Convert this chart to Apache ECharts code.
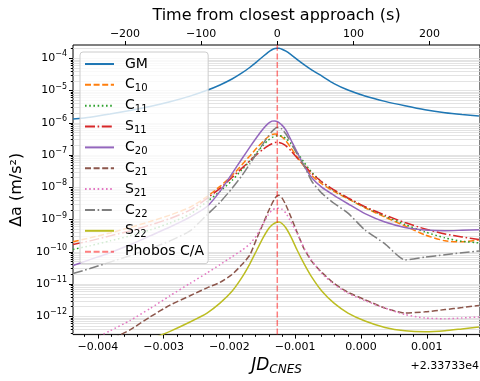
<!DOCTYPE html>
<html><head><meta charset="utf-8">
<script src="https://cdn.jsdelivr.net/npm/echarts@6/dist/echarts.min.js"></script>
<style>html,body{margin:0;padding:0;background:#fff}#c{width:480px;height:381px}</style>
</head><body><div id="c"></div>
<script>
// JD_CNES offsets (days) relative to +2.33733e4
const jd = [-0.004377,-0.004119,-0.003815,-0.003511,-0.003207,-0.002903,-0.002599,-0.002340,-0.002143,-0.001960,
 -0.001809,-0.001687,-0.001581,-0.001489,-0.001413,-0.001353,-0.001307,-0.001277,-0.001246,-0.001201,
 -0.001140,-0.001064,-0.000973,-0.000866,-0.000745,-0.000593,-0.000410,-0.000198,0.000061,0.000365,
 0.000669,0.000973,0.001277,0.001535,0.001793];
// log10 of Δa (m/s^2)
const logGM  = [-5.880,-5.825,-5.727,-5.617,-5.494,-5.347,-5.172,-4.991,-4.825,-4.641,-4.454,-4.276,-4.101,-3.942,-3.813,-3.733,-3.696,-3.687,-3.690,-3.718,-3.779,-3.887,-4.031,-4.193,-4.362,-4.552,-4.782,-4.982,-5.166,-5.334,-5.472,-5.595,-5.687,-5.742,-5.785];
const logC10 = [-9.690,-9.568,-9.414,-9.245,-9.061,-8.862,-8.617,-8.288,-7.972,-7.635,-7.298,-7.021,-6.776,-6.577,-6.439,-6.362,-6.347,-6.356,-6.377,-6.439,-6.561,-6.776,-7.052,-7.344,-7.635,-7.896,-8.126,-8.356,-8.632,-8.923,-9.199,-9.476,-9.660,-9.690,-9.629];
const logC11 = [-9.926,-9.813,-9.660,-9.506,-9.322,-9.107,-8.831,-8.442,-8.126,-7.788,-7.451,-7.175,-6.914,-6.699,-6.546,-6.454,-6.417,-6.402,-6.396,-6.408,-6.485,-6.653,-6.914,-7.221,-7.543,-7.834,-8.095,-8.341,-8.617,-8.893,-9.153,-9.383,-9.568,-9.675,-9.721];
const logS11 = [-9.773,-9.660,-9.506,-9.353,-9.169,-8.969,-8.709,-8.341,-8.034,-7.696,-7.405,-7.175,-6.975,-6.822,-6.715,-6.647,-6.610,-6.601,-6.607,-6.638,-6.715,-6.868,-7.083,-7.313,-7.574,-7.834,-8.080,-8.325,-8.601,-8.862,-9.092,-9.292,-9.445,-9.537,-9.620];
const logC20 = [-10.426,-10.242,-10.028,-9.782,-9.506,-9.230,-8.923,-8.595,-8.126,-7.574,-7.114,-6.745,-6.439,-6.193,-6.025,-5.948,-5.942,-5.957,-5.994,-6.071,-6.224,-6.531,-6.899,-7.328,-7.712,-8.003,-8.248,-8.509,-8.816,-9.077,-9.245,-9.322,-9.347,-9.331,-9.313];
const logC21 = [-13.126,-12.942,-12.727,-12.420,-12.022,-11.653,-11.362,-11.117,-10.948,-10.702,-10.396,-10.089,-9.568,-9.138,-8.770,-8.509,-8.341,-8.264,-8.248,-8.325,-8.555,-8.923,-9.383,-9.905,-10.304,-10.641,-10.979,-11.255,-11.485,-11.745,-11.899,-11.862,-11.791,-11.730,-11.663];
const logS21 = [-13.003,-12.758,-12.451,-12.129,-11.761,-11.362,-10.979,-10.656,-10.396,-10.150,-9.951,-9.752,-9.476,-9.138,-8.862,-8.709,-8.663,-8.647,-8.647,-8.678,-8.801,-9.077,-9.414,-9.874,-10.273,-10.672,-11.009,-11.285,-11.515,-11.745,-11.945,-12.052,-12.074,-12.052,-12.022];
const logC22 = [-10.672,-10.518,-10.319,-10.120,-9.905,-9.660,-9.353,-8.853,-8.463,-8.034,-7.635,-7.267,-6.929,-6.653,-6.423,-6.270,-6.178,-6.147,-6.147,-6.193,-6.347,-6.623,-6.960,-7.328,-7.819,-8.187,-8.494,-8.801,-9.322,-9.752,-10.252,-10.166,-10.089,-10.028,-9.975];
const logS22 = [-13.862,-13.617,-13.310,-13.003,-12.727,-12.466,-12.175,-11.899,-11.592,-11.224,-10.794,-10.365,-9.936,-9.568,-9.307,-9.169,-9.107,-9.083,-9.077,-9.123,-9.261,-9.537,-9.936,-10.365,-10.794,-11.224,-11.592,-11.899,-12.144,-12.344,-12.451,-12.482,-12.451,-12.390,-12.328];
const caJD = -0.001272;          // Phobos closest approach
const xTickLabels = [-0.004,-0.003,-0.002,-0.001,0.000,0.001];
const topTickLabels = [-200,-100,0,100,200];
const yDecades = [-12,-11,-10,-9,-8,-7,-6,-5,-4];

const xMin = -0.004377, xMax = 0.001809;
const yMin = -12.567, yMax = -3.586;
const secMin = (xMin - caJD) * 86400, secMax = (xMax - caJD) * 86400;

const FONT = 'DejaVu Sans';
const minus = s => String(s).replace('-', '\u2212');

const xMinor = [];
for (let k = -22; k <= 9; k++) xMinor.push(k * 0.0002);
const yMinor = [];
for (let n = -13; n <= -4; n++) for (let m = 1; m <= 9; m++) yMinor.push(n + Math.log10(m));

const specs = [
  {name:'GM',  d:logGM,  color:'#1f77b4', type:'solid'},
  {name:'C10', d:logC10, color:'#ff7f0e', type:[6,2.6]},
  {name:'C11', d:logC11, color:'#2ca02c', type:[1.6,2.6]},
  {name:'S11', d:logS11, color:'#d62728', type:[10,2.6,1.6,2.6]},
  {name:'C20', d:logC20, color:'#9467bd', type:'solid'},
  {name:'C21', d:logC21, color:'#8c564b', type:[6,2.6]},
  {name:'S21', d:logS21, color:'#e377c2', type:[1.6,2.6]},
  {name:'C22', d:logC22, color:'#7f7f7f', type:[10,2.6,1.6,2.6]},
  {name:'S22', d:logS22, color:'#bcbd22', type:'solid'}
];
const series = specs.map(s => ({
  name: s.name, type: 'line', xAxisIndex: 0, yAxisIndex: 0,
  data: jd.map((x, i) => [x, s.d[i]]),
  symbol: 'none', smooth: 0.2, clip: true,
  lineStyle: {color: s.color, width: 1.5, type: s.type},
  itemStyle: {color: s.color}
}));
const caColor = 'rgba(255,0,0,0.5)';
series.push({
  name: 'Phobos C/A', type: 'line', xAxisIndex: 0, yAxisIndex: 0,
  data: [[caJD, yMin], [caJD, yMax]],
  symbol: 'none', clip: true,
  lineStyle: {color: caColor, width: 1.5, type: [6,2.6]},
  itemStyle: {color: caColor}
});

const tickStyle = {color: '#000', width: 1};
const noLine = {show: false, onZero: false};
const chart = echarts.init(document.getElementById('c'), null, {renderer: 'canvas'});
chart.setOption({
  animation: false,
  textStyle: {fontFamily: FONT},
  grid: {left: 73, right: 0, top: 45, bottom: 43, show: true, borderColor: '#000', borderWidth: 1, backgroundColor: 'transparent'},
  xAxis: [
    {type: 'value', position: 'bottom', min: xMin, max: xMax,
     axisLine: noLine, splitLine: {show: false},
     axisTick: {show: true, length: 4, lineStyle: tickStyle, customValues: xTickLabels},
     axisLabel: {customValues: xTickLabels, margin: 7, color: '#000', fontSize: 11, fontFamily: FONT,
       formatter: v => minus(v.toFixed(3))},
     name: '{m|JD}{s|CNES}', nameLocation: 'middle', nameGap: 17,
     nameTextStyle: {rich: {
       m: {fontSize: 17, fontStyle: 'italic', fontFamily: FONT, color: '#000', lineHeight: 20},
       s: {fontSize: 12, fontStyle: 'italic', fontFamily: FONT, color: '#000', lineHeight: 12, verticalAlign: 'bottom'}}}},
    {type: 'value', position: 'bottom', min: xMin, max: xMax,
     axisLine: noLine, splitLine: {show: false}, axisLabel: {show: false},
     axisTick: {show: true, length: 2.2, lineStyle: tickStyle, customValues: xMinor}},
    {type: 'value', position: 'top', min: secMin, max: secMax,
     axisLine: noLine, splitLine: {show: false},
     axisTick: {show: true, length: 4, lineStyle: tickStyle, customValues: topTickLabels},
     axisLabel: {customValues: topTickLabels, margin: 5, color: '#000', fontSize: 11, fontFamily: FONT,
       formatter: v => minus(v)},
     name: 'Time from closest approach (s)', nameLocation: 'middle', nameGap: 13,
     nameTextStyle: {fontSize: 16, color: '#000', fontFamily: FONT}}
  ],
  yAxis: [
    {type: 'value', position: 'left', min: yMin, max: yMax,
     axisLine: noLine, splitLine: {show: false},
     axisTick: {show: true, length: 4, lineStyle: tickStyle, customValues: yDecades},
     axisLabel: {customValues: yDecades, margin: 6, color: '#000',
       formatter: v => '{b|10}{s|\u2212' + Math.abs(Math.round(v)) + '}',
       rich: {b: {fontSize: 11, fontFamily: FONT, color: '#000', lineHeight: 16},
              s: {fontSize: 8, fontFamily: FONT, color: '#000', lineHeight: 8, verticalAlign: 'top'}}},
     name: 'Δa (m/s²)', nameLocation: 'middle', nameGap: 33,
     nameTextStyle: {fontSize: 16, color: '#000', fontFamily: FONT}},
    {type: 'value', position: 'left', min: yMin, max: yMax,
     axisLine: noLine, axisLabel: {show: false},
     axisTick: {show: true, length: 2.2, lineStyle: tickStyle, customValues: yMinor},
     splitLine: {show: true, lineStyle: {color: '#dcdcdc', width: 0.8}}}
  ],
  legend: {
    orient: 'vertical', left: 80, top: 52, selectedMode: false,
    padding: [3, 4, 3, 4], itemGap: 2.85, itemWidth: 29, itemHeight: 14,
    backgroundColor: 'rgba(255,255,255,0.8)', borderColor: '#cccccc', borderWidth: 1, borderRadius: 3,
    itemStyle: {opacity: 0, color: 'rgba(0,0,0,0)', borderWidth: 0},
    data: specs.map(s => s.name).concat(['Phobos C/A']),
    formatter: name => {
      const m = /^([CS])(\d\d)$/.exec(name);
      return m ? '{a|' + m[1] + '}{b|' + m[2] + '}' : '{a|' + name + '}';
    },
    textStyle: {color: '#000', fontFamily: FONT, fontSize: 14, lineHeight: 18,
      rich: {a: {fontSize: 14, fontFamily: FONT, color: '#000', lineHeight: 18, padding: [0,0,0,6]},
             b: {fontSize: 10, fontFamily: FONT, color: '#000', lineHeight: 10, verticalAlign: 'bottom'}}}
  },
  graphic: [{type: 'text', right: 1, top: 361,
    style: {text: '+2.33733e4', font: '11px "DejaVu Sans"', fill: '#000'}}],
  series: series
});
</script></body></html>
